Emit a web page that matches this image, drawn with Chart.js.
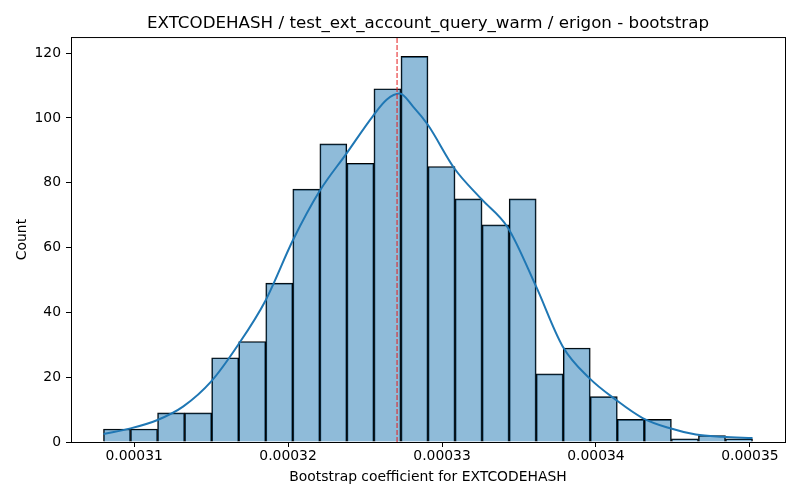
<!DOCTYPE html>
<html>
<head>
<meta charset="utf-8">
<script src="https://cdn.jsdelivr.net/npm/chart.js@4"></script>
<style>
    body { margin: 0; background: #fff; }
    #wrap { width: 800px; height: 500px; }
</style>
</head>
<body>
<div id="wrap"><canvas id="bootChart" width="800" height="500"></canvas></div>
<script>
// Histogram bins (regular width) and counts
const binStart = 0.00030801;
const binWidth = 0.0000017567;
const counts = [4, 4, 9, 9, 26, 31, 49, 78, 92, 86, 109, 119, 85, 75, 67, 75, 21, 29, 14, 7, 7, 1, 2, 1];

// KDE curve
const kdeX = [0.00030801, 0.00030977, 0.00031152, 0.00031320, 0.00031501, 0.00031676, 0.00031853,
    0.00032033, 0.00032206, 0.00032379, 0.00032550, 0.00032640, 0.00032725, 0.00032812, 0.00032909,
    0.00033082, 0.00033255, 0.00033427, 0.00033611, 0.00033784, 0.00033957, 0.00034130, 0.00034303,
    0.00034476, 0.00034649, 0.00034822, 0.00035017];
const kdeY = [2.5, 4.2, 6.8, 11.0, 18.7, 30.0, 43.6, 62.4, 77.5, 89.0, 100.5, 105.6, 107.5, 103.5, 97.8,
    84.3, 75.0, 66.2, 48.0, 29.5, 19.7, 13.0, 7.4, 4.3, 2.3, 1.6, 1.2];

// Vertical reference line (mean)
const meanValue = 0.00032708;

// Axes
const xTickValues = [0.00031, 0.00032, 0.00033, 0.00034, 0.00035];
const yTickValues = [0, 20, 40, 60, 80, 100, 120];
const xMin = 0.0003059, xMax = 0.00035228;
const yMax = 124.95;

Chart.defaults.font.family = "'DejaVu Sans', sans-serif";
Chart.defaults.color = '#000';

// cadre autour de la zone de tracé
const frame = {
    id: 'frame',
    afterDraw(chart) {
        const { ctx, chartArea: a } = chart;
        ctx.save();
        ctx.strokeStyle = '#000';
        ctx.lineWidth = 1;
        ctx.strokeRect(a.left + 0.5, a.top + 0.5, a.right - a.left, a.bottom - a.top);
        ctx.restore();
    }
};

const barData = counts.map((c, i) => ({ x: binStart + binWidth * (i + 0.5), y: c }));
const kdeData = kdeX.map((x, i) => ({ x: x, y: kdeY[i] }));

new Chart(document.getElementById('bootChart'), {
    type: 'bar',
    data: {
        datasets: [{
            type: 'bar',
            data: barData,
            backgroundColor: 'rgba(31, 119, 180, 0.5)',
            borderColor: '#000',
            borderWidth: 1,
            barPercentage: 1,
            categoryPercentage: 1,
            order: 3
        }, {
            type: 'line',
            data: kdeData,
            borderColor: '#1f77b4',
            borderWidth: 2,
            pointRadius: 0,
            cubicInterpolationMode: 'monotone',
            fill: false,
            order: 2
        }, {
            type: 'line',
            data: [{ x: meanValue, y: 0 }, { x: meanValue, y: yMax }],
            borderColor: '#e41a1c',
            borderWidth: 1,
            borderDash: [5, 2],
            pointRadius: 0,
            fill: false,
            order: 1
        }]
    },
    options: {
        responsive: false,
        animation: false,
        layout: { padding: { left: 0, right: 15, top: 0, bottom: 0 } },
        plugins: {
            legend: { display: false },
            tooltip: { enabled: false },
            title: {
                display: true,
                fullSize: false,
                text: 'EXTCODEHASH / test_ext_account_query_warm / erigon - bootstrap',
                font: { size: 16.7, weight: 'normal' },
                color: '#000',
                padding: { top: 14, bottom: 3 }
            }
        },
        scales: {
            x: {
                type: 'linear',
                min: xMin,
                max: xMax,
                offset: false,
                afterBuildTicks: s => { s.ticks = xTickValues.map(v => ({ value: v })); },
                afterFit: s => { s.height = 58; },
                ticks: {
                    font: { size: 13.9 },
                    padding: 1,
                    maxRotation: 0,
                    callback: v => v.toFixed(5)
                },
                grid: { offset: false, drawOnChartArea: false, tickLength: 5, tickColor: '#000' },
                border: { color: '#000', width: 1 },
                title: {
                    display: true,
                    text: 'Bootstrap coefficient for EXTCODEHASH',
                    font: { size: 13.9 },
                    padding: { top: 0, bottom: 14 }
                }
            },
            y: {
                min: 0,
                max: yMax,
                afterBuildTicks: s => { s.ticks = yTickValues.map(v => ({ value: v })); },
                afterFit: s => { s.width = 71; },
                ticks: { font: { size: 13.9 }, padding: 5 },
                grid: { drawOnChartArea: false, tickLength: 5, tickColor: '#000' },
                border: { color: '#000', width: 1 },
                title: {
                    display: true,
                    text: 'Count',
                    font: { size: 13.9 },
                    padding: { top: 14, bottom: 0 }
                }
            }
        }
    },
    plugins: [frame]
});
</script>
</body>
</html>
